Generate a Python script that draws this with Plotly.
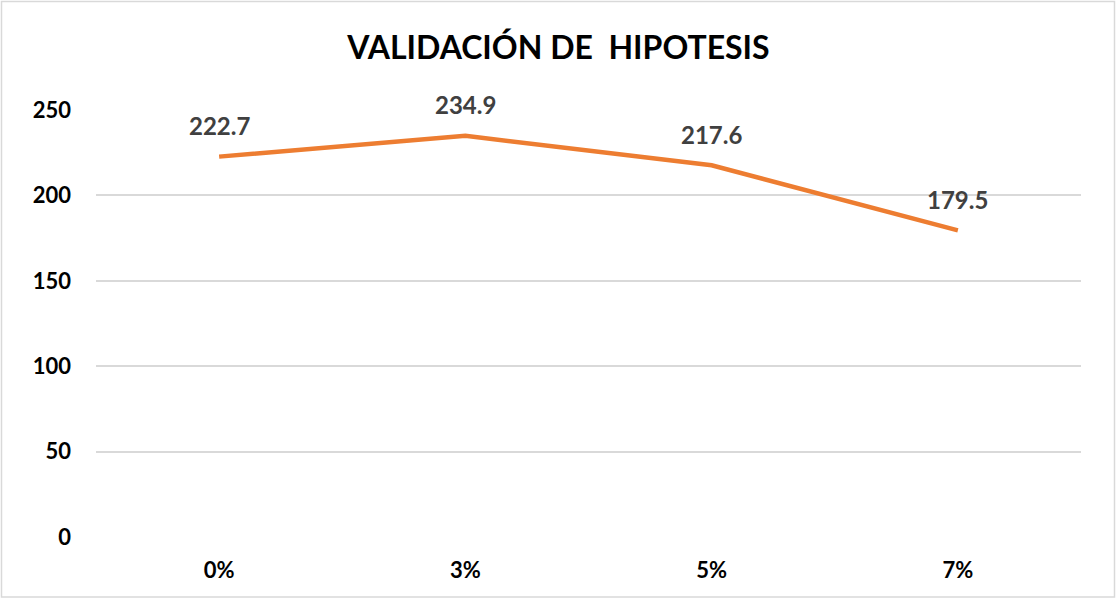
import plotly.graph_objs as go

categorias = ["0%", "3%", "5%", "7%"]
valores = [222.7, 234.9, 217.6, 179.5]
y_ticks = [0, 50, 100, 150, 200, 250]

W, H = 1117, 598
ml, mr, mt, mb = 96, 36, 110, 61
fuente = "Lato, Open Sans, sans-serif"

fig = go.Figure()
fig.add_trace(go.Scatter(x=categorias, y=valores, mode="lines",
                         line=dict(color="#ED7D31", width=4.5),
                         hoverinfo="x+y", showlegend=False))

for c, v in zip(categorias, valores):
    fig.add_annotation(x=c, y=v, text=f"{v:.1f}", showarrow=False, yshift=31,
                       font=dict(family=fuente, size=24, color="#404040", weight="bold"))

# borde del grafico
pw = W - ml - mr
ph = H - mt - mb
fig.add_shape(type="rect", xref="paper", yref="paper",
              x0=-(ml - 1.5) / pw, x1=1 + (mr - 2.5) / pw,
              y0=-(mb - 1) / ph, y1=1 + (mt - 1.5) / ph,
              line=dict(color="#D9D9D9", width=1.5), layer="below")

fig.update_layout(
    width=W, height=H,
    margin=dict(l=ml, r=mr, t=mt, b=mb),
    paper_bgcolor="white", plot_bgcolor="white",
    title=dict(text="VALIDACIÓN DE  HIPOTESIS", x=0.5, xanchor="center", y=1 - 48 / H, yanchor="middle",
               font=dict(family=fuente, size=32, color="black", weight="bold")),
    font=dict(family=fuente, size=18, color="black"),
)
fig.update_xaxes(range=[-0.5, 3.5], showgrid=False, showline=False, zeroline=False, ticks="",
                 automargin=False,
                 tickfont=dict(size=22, weight="bold", color="black"), ticklabelstandoff=18)
fig.update_yaxes(range=[0, 250], tickvals=y_ticks, showgrid=True, gridcolor="#D9D9D9", gridwidth=1.5,
                 zeroline=False, showline=False, ticks="", automargin=False,
                 tickfont=dict(size=22, weight="bold", color="black"), ticklabelstandoff=24)

fig.write_html("out.html", config={"displayModeBar": False},
               post_script="document.body.style.margin='0';document.body.style.overflow='hidden';")
